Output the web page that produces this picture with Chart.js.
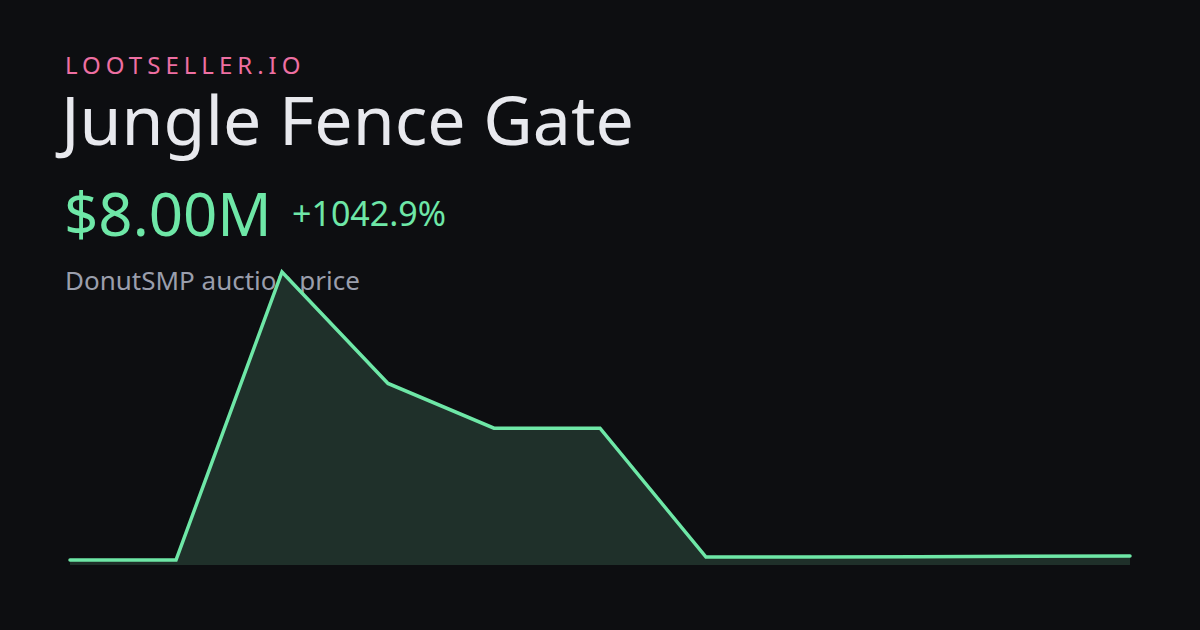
<!DOCTYPE html>
<html>
<head>
<meta charset="utf-8">
<script src="https://cdn.jsdelivr.net/npm/chart.js@4"></script>
<style>
  html, body { margin: 0; padding: 0; background: #0d0e11; }
  body { width: 1200px; height: 630px; position: relative; overflow: hidden; font-family: 'Noto Sans', sans-serif; }
  .t { position: absolute; left: 64px; line-height: 1; white-space: nowrap; }
  #brand { top: 53px; font-size: 24px; letter-spacing: 5px; color: #ee6fa2; left: 65px; }
  #title { top: 85px; font-size: 68px; color: #e8e9ee; left: 61px; }
  #price { top: 183px; font-size: 60px; color: #6ee7a7; left: 64px; }
  #change { top: 196px; font-size: 34px; color: #6ee7a7; left: 292px; }
  #sub { top: 267px; font-size: 26px; color: #9a9eac; left: 65px; }
  #wrap { position: absolute; left: 0; top: 0; width: 1200px; height: 630px; }
</style>
</head>
<body>
<div class="t" id="brand">LOOTSELLER.IO</div>
<div class="t" id="title">Jungle Fence Gate</div>
<div class="t" id="price">$8.00M</div>
<div class="t" id="change">+1042.9%</div>
<div class="t" id="sub">DonutSMP auction price</div>
<div id="wrap"><canvas id="priceChart" width="1200" height="630"></canvas></div>
<script>
// prices in millions
const labels = ['1', '2', '3', '4', '5', '6', '7', '8', '9', '10', '11'];
const prices = [0.7, 0.7, 528, 324, 242, 242, 6.2, 6.4, 6.8, 7.4, 8.0];

const ctx = document.getElementById('priceChart').getContext('2d');
new Chart(ctx, {
    type: 'line',
    data: {
        labels: labels,
        datasets: [{
            data: prices,
            borderColor: '#6ee7a7',
            borderWidth: 3.5,
            borderCapStyle: 'round',
            borderJoinStyle: 'miter',
            backgroundColor: '#1f302a',
            fill: 'start',
            pointRadius: 0,
            tension: 0,
            clip: false
        }]
    },
    options: {
        responsive: false,
        animation: false,
        layout: { padding: { left: 70, right: 70, top: 272, bottom: 65 } },
        plugins: { legend: { display: false }, tooltip: { enabled: false } },
        scales: {
            x: { display: false, offset: false },
            y: { display: false, min: -8.4, max: 528 }
        }
    }
});
</script>
</body>
</html>
